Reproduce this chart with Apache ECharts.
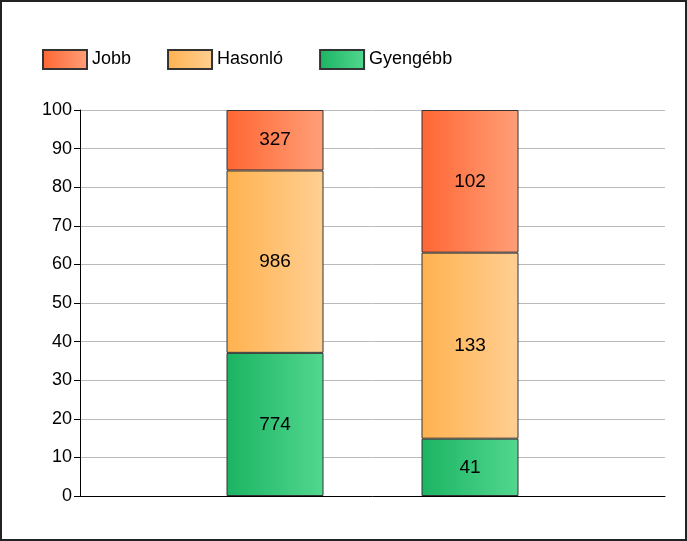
<!DOCTYPE html>
<html><head><meta charset="utf-8">
<script src="https://cdn.jsdelivr.net/npm/echarts@6/dist/echarts.min.js"></script>
<style>html,body{margin:0;padding:0;background:#fff}#c{width:687px;height:541px;box-sizing:border-box;border:2px solid #222}</style>
</head><body><div id="c"></div>
<script>
const categories = ['Országos', 'Budapesti ált. isk.'];
const slots = ['s0','s1','s2','s3','s4','s5','s6'];
const barSlots = [2, 4];
const labelPositions = [1.37, 2.37];
const jobb = [327, 102];
const hasonlo = [986, 133];
const gyengebb = [774, 41];

const totals = jobb.map((v,i)=>v+hasonlo[i]+gyengebb[i]);
const pct = arr => slots.map((s,k)=>{const i=barSlots.indexOf(k); return i<0?{value:null}:{value:arr[i]/totals[i]*100, cnt:arr[i]};});
const grad = (a,b)=>new echarts.graphic.LinearGradient(0,0,1,0,[{offset:0,color:a},{offset:1,color:b}]);
const font = 'Liberation Sans, Arial, sans-serif';
const barSeries = (name, arr, c1, c2) => ({
  name, type:'bar', stack:'s', barWidth:97, data:pct(arr),
  itemStyle:{color:grad(c1,c2), borderColor:'#333', borderWidth:1},
  label:{show:true, position:'inside', formatter:p=>p.data.cnt, color:'#000', fontSize:19, fontFamily:font}
});
const chart = echarts.init(document.getElementById('c'));
chart.setOption({
  animation:false,
  legend:{left:35, top:42, icon:'rect', itemWidth:44, itemHeight:19, itemGap:36,
    textStyle:{fontSize:18, fontFamily:font, color:'#000'},
    data:['Jobb','Hasonló','Gyengébb']},
  grid:{left:78, right:20, top:108, bottom:43},
  xAxis:[{type:'category', data:slots, boundaryGap:false,
    axisLine:{lineStyle:{color:'#000'}}, axisTick:{show:false}, axisLabel:{show:false}, splitLine:{show:false}},
    {type:'value', min:0, max:3, show:false}],
  yAxis:{type:'value', min:0, max:100, interval:10,
    axisLine:{show:true, lineStyle:{color:'#000'}}, axisTick:{show:true, length:6, lineStyle:{color:'#000'}},
    axisLabel:{fontSize:18, fontFamily:font, color:'#000'},
    splitLine:{lineStyle:{color:'#bbb'}}},
  series:[
    barSeries('Gyengébb', gyengebb, '#1bb463', '#52d78f'),
    barSeries('Hasonló', hasonlo, '#ffb24f', '#ffcf93'),
    barSeries('Jobb', jobb, '#ff6633', '#ff9f78'),
    {type:'scatter', xAxisIndex:1, symbolSize:1, itemStyle:{opacity:0},
     data:labelPositions.map((p,i)=>({value:[p,0], name:categories[i]})),
     label:{show:true, rotate:90, formatter:p=>p.name, position:'inside', align:'left', verticalAlign:'middle',
       offset:[0,-8], fontSize:18, fontFamily:font, color:'#000'}, silent:true}
  ]
});
</script></body></html>
